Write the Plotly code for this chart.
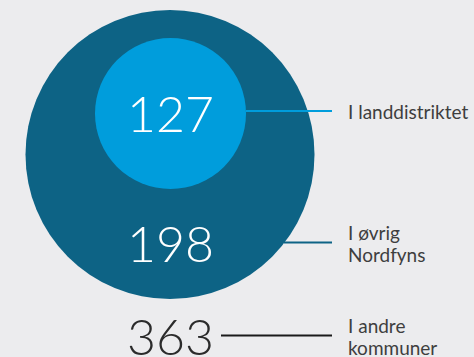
import plotly.graph_objects as go

# Residents by where they live
labels = ["I landdistriktet", "I øvrig<br>Nordfyns", "I andre<br>kommuner"]
values = [127, 198, 363]

W, H = 474, 357
BG = "#ececee"
DARK = "#0d6385"
LIGHT = "#009ddc"
INK = "#2b2b2b"
LABEL_INK = "#3e3e3e"

# layout positions (pixel space, y downward)
outer_c = (170, 154.5)
inner_c = (170.5, 113.5)
outer_d = 289
inner_d = 151
num_y = [113, 243, 336]
line_y = [111, 242.5, 335.5]
line_x0 = [246, 284, 221]
line_x1 = 332
label_x = 346
label_line_gap = 21.5
label_colors = [LIGHT, DARK, "#1a1a1a"]
num_colors = ["white", "white", INK]

fig = go.Figure()

# outer and inner discs
fig.add_trace(go.Scatter(
    x=[outer_c[0], inner_c[0]], y=[outer_c[1], inner_c[1]],
    mode="markers",
    marker=dict(size=[outer_d, inner_d], color=[DARK, LIGHT], line=dict(width=0), opacity=1),
    hoverinfo="skip", showlegend=False,
))

# leader lines
for i in range(3):
    fig.add_trace(go.Scatter(
        x=[line_x0[i], line_x1], y=[line_y[i], line_y[i]],
        mode="lines", line=dict(color=label_colors[i], width=2),
        hoverinfo="skip", showlegend=False,
    ))

# numbers
for i, v in enumerate(values):
    fig.add_annotation(
        x=170, y=num_y[i], text=str(v), showarrow=False,
        xanchor="center", yanchor="middle",
        font=dict(family="Lato", size=50, color=num_colors[i], weight=300),
    )

# category labels, one annotation per text line for tight leading
for i, lab in enumerate(labels):
    parts = lab.split("<br>")
    if len(parts) == 1:
        ys = [line_y[i]]
    else:
        ys = [line_y[i] - 10, line_y[i] - 10 + label_line_gap]
    for part, yy in zip(parts, ys):
        fig.add_annotation(
            x=label_x, y=yy, text=part, showarrow=False,
            xanchor="left", yanchor="middle", align="left",
            font=dict(family="Lato", size=19, color=LABEL_INK),
        )

fig.update_layout(
    width=W, height=H,
    margin=dict(l=0, r=0, t=0, b=0),
    paper_bgcolor=BG, plot_bgcolor=BG,
    xaxis=dict(range=[0, W], visible=False, fixedrange=True),
    yaxis=dict(range=[H, 0], visible=False, fixedrange=True),
    showlegend=False,
)

fig.write_html("out.html", config={"displayModeBar": False})
